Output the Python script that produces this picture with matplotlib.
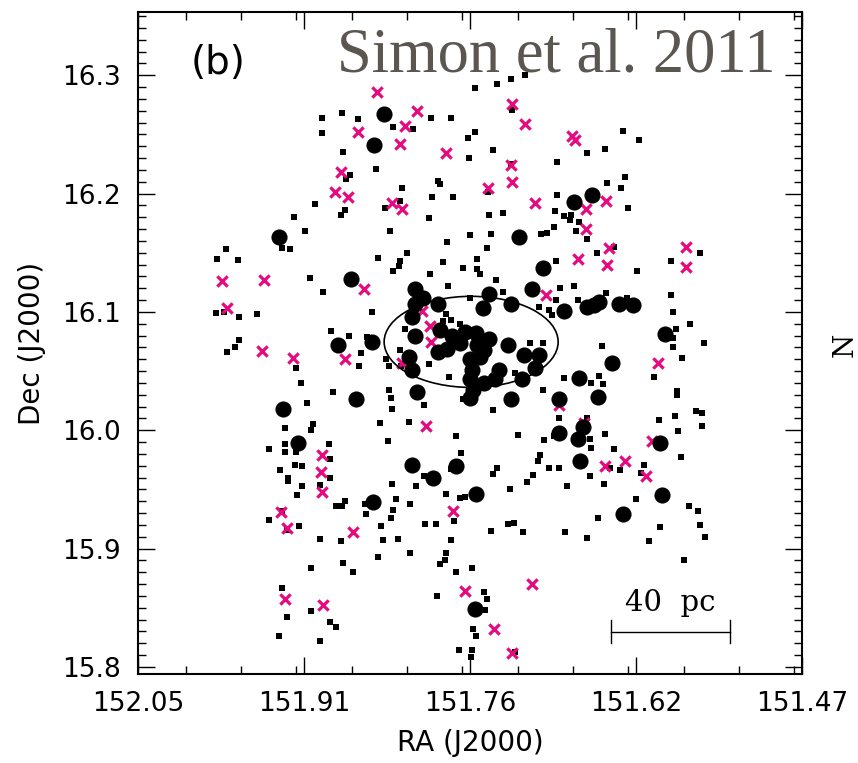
import numpy as np
import matplotlib.pyplot as plt
from matplotlib.patches import Ellipse
from matplotlib.ticker import FixedLocator, MultipleLocator

# Small square markers (RA, Dec)
sq_ra = [151.889, 151.889, 151.872, 151.858, 151.827, 151.810, 151.794, 151.777, 151.871, 151.842,
         151.865, 151.868, 151.788, 151.786, 151.819, 151.793, 151.775, 151.756, 151.736, 151.724,
         151.712, 151.756, 151.762, 151.740, 151.761, 151.744, 151.895, 151.869, 151.873, 151.834,
         151.821, 151.914, 151.904, 151.830, 151.796, 151.743, 151.760, 151.742, 151.780, 151.973,
         151.924, 151.917, 151.745, 151.723, 151.684, 151.626, 151.612, 151.658, 151.642, 151.724,
         151.684, 151.640, 151.625, 151.628, 151.622, 151.731, 151.686, 151.678, 151.672, 151.673,
         151.665, 151.687, 151.693, 151.698, 151.667, 151.658, 151.634, 151.649, 151.685, 151.614,
         151.584, 151.559, 151.669, 151.641, 151.685, 151.691, 151.700, 151.688, 151.681, 151.666,
         151.623, 151.584, 151.583, 151.580, 151.583, 151.583, 151.568, 151.556, 151.575, 151.708,
         151.696, 151.645, 151.745, 151.721, 151.678, 151.647, 151.654, 151.644, 151.599, 151.696,
         151.579, 151.579, 151.740, 151.682, 151.658, 151.595, 151.581, 151.563, 151.557, 151.557,
         151.578, 151.718, 151.695, 151.687, 151.655, 151.642, 151.654, 151.634, 151.576, 151.699,
         151.701, 151.736, 151.740, 151.691, 151.682, 151.705, 151.655, 151.638, 151.629, 151.608,
         151.611, 151.981, 151.963, 151.900, 151.888, 151.982, 151.975, 151.962, 151.946, 151.840,
         151.815, 151.821, 151.822, 151.827, 151.784, 151.795, 151.766, 151.754, 151.754, 151.751,
         151.737, 151.779, 151.760, 151.846, 151.881, 151.866, 151.850, 151.962, 151.965, 151.972,
         151.855, 151.857, 151.912, 151.908, 151.880, 151.902, 151.833, 151.831, 151.821, 151.820,
         151.796, 151.778, 151.831, 151.829, 151.828, 151.800, 151.897, 151.899, 151.922, 151.839,
         151.813, 151.772, 151.832, 151.922, 151.936, 151.922, 151.912, 151.883, 151.882, 151.913,
         151.907, 151.926, 151.768, 151.777, 151.919, 151.882, 151.800, 151.919, 151.907, 151.911,
         151.891, 151.869, 151.872, 151.877, 151.851, 151.852, 151.828, 151.807, 151.825, 151.827,
         151.829, 151.812, 151.781, 151.769, 151.764, 151.936, 151.924, 151.920, 151.909, 151.891,
         151.873, 151.838, 151.836, 151.823, 151.799, 151.790, 151.774, 151.777, 151.742, 151.840,
         151.812, 151.781, 151.782, 151.786, 151.772, 151.758, 151.899, 151.871, 151.862, 151.924,
         151.920, 151.927, 151.899, 151.882, 151.877, 151.891, 151.789, 151.748, 151.745, 151.747,
         151.757, 151.755, 151.770, 151.758, 151.759, 151.710, 151.725, 151.675, 151.643, 151.615,
         151.569, 151.561, 151.559, 151.555, 151.594, 151.604, 151.648, 151.727, 151.722, 151.714,
         151.677, 151.658, 151.573, 151.721, 151.781, 151.777, 151.784, 151.769, 151.817, 151.766,
         151.731]
sq_dec = [16.264, 16.251, 16.268, 16.263, 16.256, 16.255, 16.264, 16.264, 16.235, 16.221,
          16.216, 16.212, 16.211, 16.208, 16.205, 16.197, 16.197, 16.289, 16.293, 16.297,
          16.300, 16.252, 16.247, 16.237, 16.230, 16.201, 16.191, 16.186, 16.182, 16.188,
          16.194, 16.180, 16.168, 16.168, 16.179, 16.182, 16.165, 16.166, 16.159, 16.153,
          16.154, 16.153, 16.154, 16.271, 16.227, 16.253, 16.245, 16.234, 16.238, 16.225,
          16.199, 16.209, 16.214, 16.205, 16.188, 16.184, 16.185, 16.181, 16.182, 16.178,
          16.176, 16.172, 16.167, 16.166, 16.168, 16.162, 16.155, 16.150, 16.143, 16.135,
          16.143, 16.150, 16.122, 16.116, 16.110, 16.102, 16.104, 16.097, 16.120, 16.110,
          16.112, 16.114, 16.100, 16.086, 16.078, 16.070, 16.090, 16.074, 16.061, 16.074,
          16.074, 16.071, 16.067, 16.048, 16.044, 16.046, 16.040, 16.039, 16.045, 16.034,
          16.033, 16.030, 16.017, 16.010, 16.010, 16.009, 16.012, 16.016, 16.015, 16.004,
          15.999, 15.996, 15.992, 15.995, 15.993, 15.997, 15.985, 15.984, 15.977, 15.979,
          15.974, 15.968, 15.963, 15.968, 15.968, 15.962, 15.961, 15.968, 15.966, 15.971,
          15.964, 16.145, 16.144, 16.129, 16.117, 16.099, 16.100, 16.096, 16.098, 16.146,
          16.150, 16.143, 16.139, 16.135, 16.142, 16.132, 16.137, 16.145, 16.136, 16.132,
          16.127, 16.122, 16.112, 16.100, 16.084, 16.080, 16.079, 16.076, 16.070, 16.066,
          16.065, 16.054, 16.053, 16.040, 16.032, 16.023, 16.060, 16.054, 16.068, 16.054,
          16.056, 16.045, 16.034, 16.027, 16.018, 16.021, 16.005, 16.000, 16.002, 16.006,
          16.007, 15.995, 15.991, 15.988, 15.984, 15.982, 15.982, 15.988, 15.976, 15.971,
          15.970, 15.966, 15.981, 15.967, 15.960, 15.960, 15.961, 15.957, 15.953, 15.945,
          15.954, 15.940, 15.936, 15.936, 15.929, 15.938, 15.955, 15.953, 15.942, 15.933,
          15.926, 15.938, 15.946, 15.943, 15.944, 15.924, 15.932, 15.916, 15.919, 15.908,
          15.906, 15.919, 15.907, 15.908, 15.921, 15.921, 15.923, 15.907, 15.915, 15.893,
          15.896, 15.896, 15.890, 15.887, 15.880, 15.884, 15.884, 15.888, 15.880, 15.867,
          15.842, 15.826, 15.847, 15.838, 15.834, 15.822, 15.860, 15.863, 15.857, 15.848,
          15.832, 15.826, 15.814, 15.814, 15.808, 15.956, 15.950, 15.953, 15.955, 15.942,
          15.936, 15.932, 15.920, 15.910, 15.918, 15.906, 15.926, 15.921, 15.922, 15.914,
          15.914, 15.909, 15.890, 15.813, 16.098, 16.093, 16.092, 16.090, 16.086, 16.026,
          16.117]

# Large filled circles (RA, Dec)
circ_ra = [151.835, 151.844, 151.927, 151.669, 151.653, 151.717, 151.864, 151.875, 151.846, 151.923,
           151.860, 151.806, 151.910, 151.811, 151.792, 151.772, 151.808, 151.743, 151.749, 151.801,
           151.808, 151.788, 151.811, 151.808, 151.786, 151.776, 151.764, 151.769, 151.780, 151.788,
           151.755, 151.754, 151.813, 151.811, 151.760, 151.758, 151.760, 151.757, 151.760, 151.706,
           151.724, 151.678, 151.743, 151.727, 151.748, 151.751, 151.713, 151.700, 151.703, 151.735,
           151.715, 151.738, 151.748, 151.724, 151.682, 151.696, 151.658, 151.652, 151.647, 151.630,
           151.618, 151.590, 151.636, 151.665, 151.648, 151.682, 151.661, 151.666, 151.664, 151.594,
           151.845, 151.755, 151.756, 151.592, 151.626]
circ_dec = [16.267, 16.241, 16.163, 16.193, 16.199, 16.163, 16.128, 16.072, 16.075, 16.018,
            16.026, 16.032, 15.989, 15.971, 15.960, 15.970, 16.119, 16.115, 16.103, 16.112,
            16.107, 16.107, 16.096, 16.080, 16.085, 16.080, 16.083, 16.074, 16.069, 16.066,
            16.082, 16.072, 16.062, 16.051, 16.060, 16.051, 16.043, 16.034, 16.027, 16.119,
            16.107, 16.101, 16.077, 16.072, 16.068, 16.062, 16.064, 16.064, 16.053, 16.051,
            16.043, 16.043, 16.040, 16.026, 16.026, 16.137, 16.104, 16.106, 16.108, 16.107,
            16.106, 16.081, 16.057, 16.044, 16.028, 15.998, 16.003, 15.993, 15.974, 15.989,
            15.939, 15.946, 15.849, 15.945, 15.929]

# Magenta crosses (RA, Dec)
x_ra = [151.841, 151.806, 151.817, 151.858, 151.821, 151.781, 151.873, 151.878, 151.867, 151.828,
        151.819, 151.744, 151.723, 151.712, 151.671, 151.668, 151.724, 151.723, 151.703, 151.659,
        151.641, 151.659, 151.639, 151.571, 151.977, 151.940, 151.972, 151.853, 151.942, 151.915,
        151.869, 151.798, 151.889, 151.890, 151.640, 151.666, 151.571, 151.694, 151.596, 151.682,
        151.660, 151.601, 151.625, 151.642, 151.606, 151.889, 151.925, 151.920, 151.862, 151.775,
        151.764, 151.922, 151.888, 151.739, 151.706, 151.723, 151.794, 151.802, 151.795, 151.819]
x_dec = [16.286, 16.270, 16.257, 16.252, 16.242, 16.234, 16.218, 16.201, 16.197, 16.192,
         16.187, 16.205, 16.276, 16.259, 16.249, 16.245, 16.224, 16.210, 16.192, 16.187,
         16.194, 16.170, 16.154, 16.155, 16.126, 16.127, 16.103, 16.119, 16.067, 16.061,
         16.060, 16.004, 15.979, 15.965, 16.140, 16.145, 16.138, 16.114, 16.057, 16.021,
         16.006, 15.991, 15.974, 15.970, 15.961, 15.948, 15.931, 15.917, 15.914, 15.932,
         15.864, 15.857, 15.852, 15.832, 15.870, 15.812, 16.075, 16.101, 16.088, 16.057]

xticks = [152.05, 151.905, 151.76, 151.615, 151.47]
xtick_labels = ['152.05', '151.91', '151.76', '151.62', '151.47']
yticks = [15.8, 15.9, 16.0, 16.1, 16.2, 16.3]

fig = plt.figure(figsize=(8.58, 7.63), dpi=100)
ax = fig.add_axes([138 / 858, 1 - 674 / 763, 664 / 858, 662 / 763])

ax.scatter(sq_ra, sq_dec, marker='s', s=25, c='black', linewidths=0, zorder=2)
ax.scatter(x_ra, x_dec, marker='x', s=55, c='#e6097f', linewidths=2.3, zorder=3)
ax.scatter(circ_ra, circ_dec, marker='o', s=135, c='black', linewidths=0, zorder=4)

# ellipse around the core
ax.add_patch(Ellipse((151.759, 16.0747), 0.152, 0.077, fill=False,
                     edgecolor='black', linewidth=1.2, zorder=5))

# 40 pc scale bar
ax.plot([151.637, 151.533], [15.8298, 15.8298], color='black', lw=1.0)
ax.plot([151.637, 151.637], [15.8205, 15.8397], color='black', lw=1.0)
ax.plot([151.533, 151.533], [15.8205, 15.8397], color='black', lw=1.0)
ax.text(151.585, 15.842, '40  pc', ha='center', va='bottom', fontsize=21,
        family='DejaVu Serif')

ax.set_xlim(152.05, 151.47)
ax.set_ylim(15.794, 16.3535)

ax.xaxis.set_major_locator(FixedLocator(xticks))
ax.set_xticklabels(xtick_labels)
ax.xaxis.set_minor_locator(MultipleLocator(0.145 / 3))
ax.yaxis.set_major_locator(FixedLocator(yticks))
ax.set_yticklabels([f'{v:.1f}' for v in yticks])
ax.yaxis.set_minor_locator(MultipleLocator(0.01))

ax.tick_params(which='both', direction='in', top=True, right=True, width=1.0)
ax.tick_params(which='major', length=12, labelsize=19, pad=12)
ax.tick_params(which='minor', length=6)
for sp in ax.spines.values():
    sp.set_linewidth(1.5)

ax.set_xlabel('RA (J2000)', fontsize=20, labelpad=9)
ax.set_ylabel('Dec (J2000)', fontsize=20, labelpad=12)

ax.text(0.12, 0.923, '(b)', transform=ax.transAxes, fontsize=28,
        ha='center', va='center')
ax.text(0.63, 0.933, 'Simon et al. 2011', transform=ax.transAxes, fontsize=45,
        ha='center', va='center', family='Liberation Serif', color='#5b5650')
fig.text(845 / 858, 1 - 345 / 763, 'N', rotation=90, fontsize=20,
         ha='center', va='center', family='DejaVu Serif')

fig.savefig('out.png', dpi=100)
